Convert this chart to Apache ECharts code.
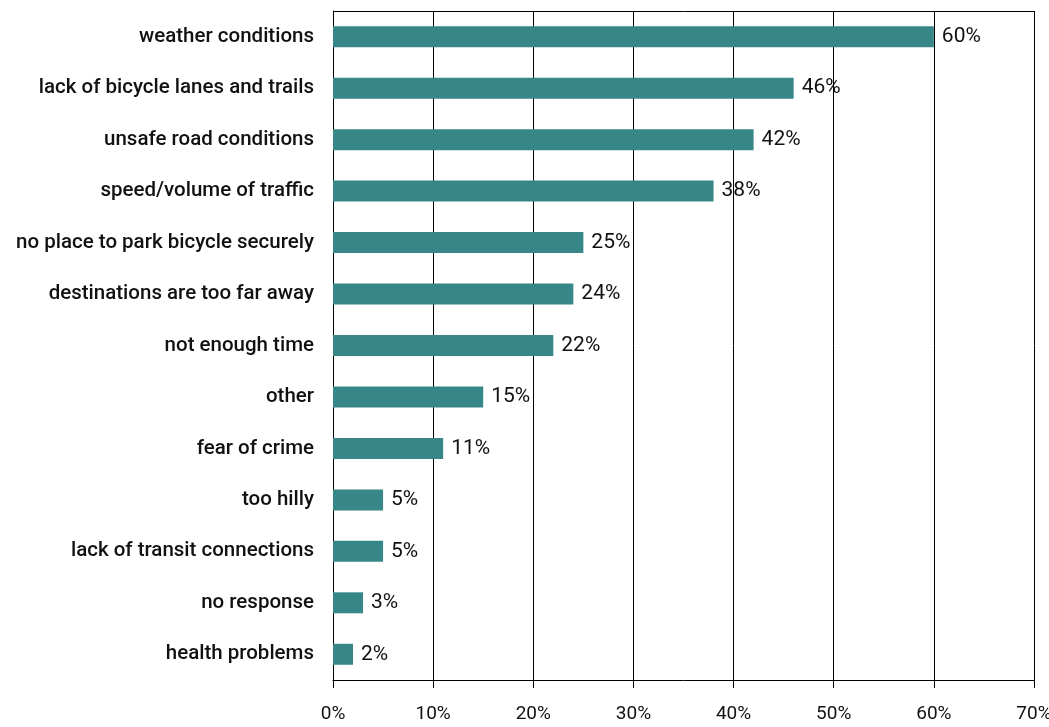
<!DOCTYPE html>
<html><head><meta charset="utf-8">
<script src="https://cdn.jsdelivr.net/npm/echarts@6/dist/echarts.min.js"></script>
<style>html,body{margin:0;padding:0;background:#fff}#c{width:1049px;height:727px}</style>
</head><body><div id="c"></div>
<script>
const categories = ["weather conditions","lack of bicycle lanes and trails","unsafe road conditions","speed/volume of traffic","no place to park bicycle securely","destinations are too far away","not enough time","other","fear of crime","too hilly","lack of transit connections","no response","health problems"];
const values = [60,46,42,38,25,24,22,15,11,5,5,3,2];
const tickLabels = ["0%","10%","20%","30%","40%","50%","60%","70%"];
const chart = echarts.init(document.getElementById('c'));
const font = 'Roboto,"Liberation Sans",Arial,sans-serif';
chart.setOption({
  animation:false,
  grid:{left:333,right:15,top:11,bottom:47,containLabel:false,outerBoundsMode:'none'},
  xAxis:{type:'value',min:0,max:70,interval:10,
    axisLine:{show:true,lineStyle:{color:'#000',width:1}},
    axisTick:{show:true,length:8,lineStyle:{color:'#000'}},
    axisLabel:{formatter:function(v){return tickLabels[Math.round(v/10)];},color:'#111',fontSize:19,fontFamily:font,margin:25},
    splitLine:{show:true,lineStyle:{color:'#000',width:1}}},
  yAxis:{type:'category',data:categories,inverse:true,
    axisLine:{show:true,lineStyle:{color:'#000'}},
    axisTick:{show:false},
    axisLabel:{color:'#111',fontSize:20.5,fontWeight:500,fontFamily:font,margin:19},
    splitLine:{show:false}},
  series:[{type:'bar',data:values,barWidth:21,
    itemStyle:{color:'#378789'},
    label:{show:true,position:'right',distance:8,formatter:'{c}%',color:'#111',fontSize:21,fontWeight:400,fontFamily:font}},
  ],
  graphic:[{type:'line',shape:{x1:333,y1:11.5,x2:1034,y2:11.5},style:{stroke:'#000',lineWidth:1}}]
});
</script></body></html>
